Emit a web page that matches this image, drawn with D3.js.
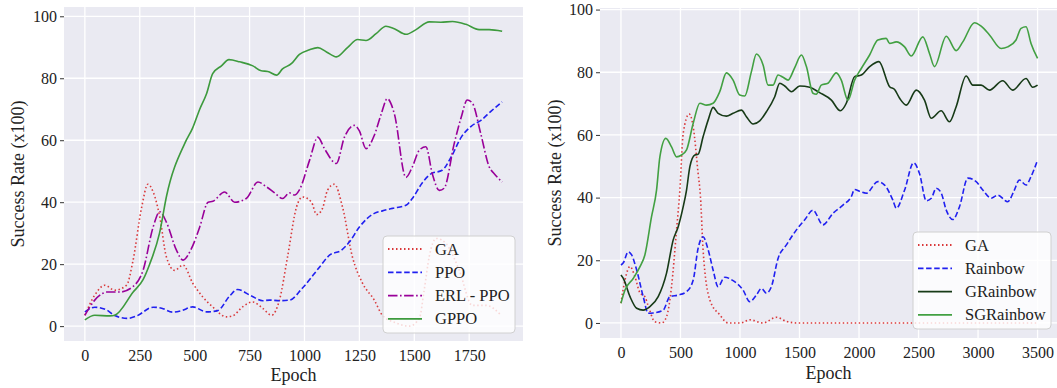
<!DOCTYPE html>
<html><head><meta charset="utf-8">
<script src="https://cdn.jsdelivr.net/npm/d3@7"></script>
<style>body{margin:0;background:#fff}svg{display:block}</style>
</head><body>
<svg id="chart" width="1057" height="388"></svg>
<script>
// ---------- Data (epoch, success rate x100) ----------
const leftYTicks = [0, 20, 40, 60, 80, 100];
const leftXTicks = [0, 250, 500, 750, 1000, 1250, 1500, 1750];
const rightYTicks = [0, 20, 40, 60, 80, 100];
const rightXTicks = [0, 500, 1000, 1500, 2000, 2500, 3000, 3500];

const leftNames = ["GA", "PPO", "ERL - PPO", "GPPO"];
const rightNames = ["GA", "Rainbow", "GRainbow", "SGRainbow"];

const gaLeft = [[0,3.5],[45,10],[91,13.2],[136,11.6],[190,13.2],[218,20.7],[259,38.5],[287,45.8],[311,43.3],[341,35.3],[371,22.4],[409,18],[447,19.7],[491,13.9],[536,9.5],[582,6.2],[645,3],[673,3.3],[718,6.2],[764,7.8],[809,5.8],[850,3.5],[886,8.4],[923,22.4],[964,38.5],[991,41.7],[1032,40],[1055,36],[1082,38],[1105,43.9],[1136,45.8],[1173,38.5],[1218,22.4],[1264,13.9],[1318,8.4],[1355,3.5],[1418,1],[1477,0],[1523,2.5],[1545,11.6],[1568,22.4],[1600,28.3],[1645,26.6],[1705,18],[1764,6.7],[1827,6.7],[1895,3.5]];
const ppoLeft = [[0,4.6],[45,6.1],[100,5.2],[136,3.4],[195,2.5],[236,3.3],[311,6.1],[350,5.8],[400,4.5],[440,5],[491,6.2],[554,4.6],[605,5],[659,9.7],[695,11.8],[759,9.7],[810,8.2],[841,8.4],[886,8.2],[932,8.4],[991,12.3],[1068,19],[1114,22.9],[1168,24.5],[1205,27.2],[1250,32],[1318,36.4],[1355,37.2],[1400,38],[1462,39],[1491,41.2],[1536,46.2],[1577,49.2],[1627,50.3],[1668,54.6],[1714,61],[1759,64.5],[1805,66.5],[1850,69.4],[1900,72.4]];
const erlLeft = [[0,3.5],[45,8.4],[82,10.6],[100,11],[159,11],[218,12.7],[265,18],[311,32],[341,36.9],[371,33.6],[417,24.5],[447,21.3],[485,25],[523,32],[561,40],[583,40.3],[636,43.3],[682,40],[735,41.2],[788,46.5],[826,45],[864,43],[900,41.2],[932,43],[955,42.3],[977,44],[1023,53.5],[1061,61],[1091,57.3],[1145,52.5],[1182,61],[1227,64.8],[1250,63],[1280,57.3],[1318,61.6],[1350,68.6],[1377,73.4],[1409,68.6],[1462,48],[1491,51.4],[1523,56.8],[1553,57.9],[1582,49.2],[1614,43.8],[1636,44.5],[1682,59],[1714,67.5],[1741,73],[1765,71.9],[1803,62],[1841,51.4],[1864,49.2],[1900,46.5]];
const gppoLeft = [[0,2],[45,3.5],[114,3.3],[136,3.5],[220,11],[265,15],[295,20],[340,30],[372,42],[455,59],[491,64],[523,70],[554,75],[582,81.5],[622,84],[656,86],[705,85.3],[765,84],[803,82.4],[833,82.2],[873,81],[900,83],[940,84.7],[977,87.7],[1023,89.2],[1061,89.9],[1100,88.5],[1145,86.9],[1197,90],[1242,92.5],[1280,92.2],[1326,94.4],[1371,96.8],[1409,96],[1462,94.2],[1508,95.7],[1568,98.2],[1621,98.1],[1674,98.3],[1735,97.4],[1795,95.7],[1841,95.7],[1900,95.2]];

const gaRight = [[0,6.3],[34,13.7],[76,18],[117,14.8],[160,9.6],[201,8.4],[227,5.7],[285,0.4],[341,0],[383,2],[425,11.6],[467,29.7],[495,42.4],[523,60.5],[573,66.7],[607,62.6],[648,47.8],[668,40.3],[690,23.3],[747,7.3],[830,2.6],[900,0],[1007,0],[1082,1],[1194,0],[1306,1.8],[1390,0.5],[1482,0],[2000,0],[2500,0],[3000,0],[3500,0]];
const rainbowRight = [[0,18.5],[20,19.2],[61,22.7],[90,21.7],[132,16.9],[187,8.4],[229,3.1],[271,3.2],[355,4.1],[411,8.4],[481,8.9],[551,10],[607,13.7],[648,23.8],[690,27.5],[733,23.3],[774,16.9],[816,11.6],[872,14.6],[942,13.5],[1026,10.5],[1082,6.8],[1138,8.9],[1180,11],[1222,9.5],[1264,11.6],[1320,20.6],[1390,24.9],[1474,29.7],[1544,32.9],[1613,36],[1697,31.3],[1781,35],[1865,37.6],[1935,40.3],[1963,42.6],[2005,42],[2061,41.4],[2158,45.1],[2215,44],[2284,39.2],[2313,36.6],[2383,42.4],[2458,51.1],[2508,47.7],[2565,39],[2607,39.8],[2649,43],[2690,41.5],[2733,36],[2788,33],[2844,37.1],[2914,46.2],[2984,45.1],[3040,42.4],[3110,39.8],[3165,40.8],[3249,38.7],[3305,42.4],[3347,45.6],[3403,44],[3445,46.7],[3500,52]];
const grainbowRight = [[0,15.3],[20,14.2],[76,8.4],[132,4.7],[187,4.1],[243,5.2],[313,8.4],[383,15.9],[439,26.5],[481,30.7],[523,37.1],[551,42.4],[579,49.9],[621,53.6],[648,53.8],[690,59.4],[733,64.8],[774,68.8],[816,66.9],[886,66],[942,66.9],[1012,67.9],[1054,65.8],[1110,63.5],[1166,64.5],[1222,67.4],[1292,72.2],[1334,76.5],[1376,75.6],[1432,73.8],[1502,75.6],[1586,75.2],[1669,73.5],[1768,71.1],[1843,67.7],[1893,70.1],[1963,78.6],[2019,79.1],[2089,81.8],[2167,83.4],[2257,75.4],[2299,74.5],[2341,71.7],[2397,69.5],[2481,74.3],[2550,71.1],[2607,65.3],[2690,67.7],[2760,64.2],[2816,69],[2900,78.8],[2956,75.9],[3026,75.9],[3096,74.3],[3207,77.3],[3291,74.3],[3403,78],[3459,75.2],[3500,75.9]];
const sgrainbowRight = [[0,6.3],[34,10.5],[103,14.2],[160,18],[201,21.7],[257,33.9],[299,42.4],[327,53],[377,58.9],[425,56.2],[467,53],[509,53.6],[551,55.2],[607,63.7],[663,70.1],[719,69.5],[774,70.1],[830,73.8],[886,79.8],[942,77.5],[998,72.7],[1040,72.4],[1096,80.2],[1138,85.8],[1194,82.3],[1236,75.9],[1278,75.9],[1320,79.1],[1362,78.4],[1404,77.5],[1460,81.5],[1516,85.5],[1558,81.8],[1613,73.3],[1641,73],[1683,75.9],[1739,76.5],[1809,79.8],[1851,77.5],[1907,71.1],[1963,77.5],[2019,81.2],[2089,85.5],[2158,90.3],[2228,90.8],[2257,89.2],[2313,89.7],[2383,88.1],[2439,85.2],[2536,91.3],[2592,86],[2634,81.8],[2733,91.5],[2816,86.9],[2872,89.7],[2970,95.8],[3026,94.7],[3096,91.9],[3194,87.6],[3249,88.1],[3319,90.3],[3361,94],[3403,94.5],[3445,89.2],[3500,84.4]];

// ---------- Styles ----------
const styles = {
  GA:        {color:"#d9383a", dash:"1.5,2.5", width:1.6},
  PPO:       {color:"#2020f0", dash:"5.5,2.6", width:1.6},
  "ERL - PPO":{color:"#990099", dash:"9.5,2.5,1.6,2.5", width:1.6},
  GPPO:      {color:"#3d9a3d", dash:null, width:1.6},
  Rainbow:   {color:"#2020f0", dash:"5.5,2.6", width:1.6},
  GRainbow:  {color:"#173a17", dash:null, width:1.6},
  SGRainbow: {color:"#42a042", dash:null, width:1.6}
};

const svg = d3.select("#chart");
const font = "'Liberation Serif','Times New Roman',serif";

function panel(cfg){
  const {x0,x1,y0,y1,xDomain,yDomain,xTicks,yTicks,series,names,legend,ylabX,xlabY} = cfg;
  const x = d3.scaleLinear().domain(xDomain).range([x0,x1]);
  const y = d3.scaleLinear().domain(yDomain).range([y1,y0]);
  const g = svg.append("g");
  const clipId = "clip"+Math.round(x0);
  svg.append("clipPath").attr("id",clipId).append("rect")
    .attr("x",x0).attr("y",y0).attr("width",x1-x0).attr("height",y1-y0);
  g.append("rect").attr("x",x0).attr("y",y0).attr("width",x1-x0).attr("height",y1-y0).attr("fill","#eaeaf2");
  // grid
  g.append("g").selectAll("line").data(xTicks).join("line")
    .attr("x1",d=>x(d)).attr("x2",d=>x(d)).attr("y1",y0).attr("y2",y1)
    .attr("stroke","#fff").attr("stroke-width",1.3);
  g.append("g").selectAll("line").data(yTicks).join("line")
    .attr("x1",x0).attr("x2",x1).attr("y1",d=>y(d)).attr("y2",d=>y(d))
    .attr("stroke","#fff").attr("stroke-width",1.3);
  // y axis
  const ya = g.append("g").attr("transform",`translate(${x0},0)`)
    .call(d3.axisLeft(y).tickValues(yTicks).tickSize(4).tickPadding(3).tickFormat(d3.format("d")));
  ya.select(".domain").remove();
  ya.selectAll(".tick line").attr("stroke","#333").attr("stroke-width",1);
  ya.selectAll("text").attr("font-family",font).attr("font-size",16).attr("fill","#222");
  // x axis
  const xa = g.append("g").attr("transform",`translate(0,${y1})`)
    .call(d3.axisBottom(x).tickValues(xTicks).tickSize(0).tickPadding(9).tickFormat(d3.format("d")));
  xa.select(".domain").remove();
  xa.selectAll("text").attr("font-family",font).attr("font-size",16).attr("fill","#222");
  // labels
  g.append("text").attr("x",(x0+Math.min(x1,1057))/2 - (x1>1000?0:0)).attr("y",xlabY)
    .attr("text-anchor","middle").attr("font-family",font).attr("font-size",18).attr("fill","#222")
    .text("Epoch");
  g.append("text").attr("transform",`translate(${ylabX},${(y0+y1)/2}) rotate(-90)`)
    .attr("text-anchor","middle").attr("dominant-baseline","central")
    .attr("font-family",font).attr("font-size",18).attr("fill","#222")
    .text("Success Rate (x100)");
  // lines
  const line = d3.line().x(d=>x(d[0])).y(d=>y(d[1])).curve(d3.curveMonotoneX);
  const lg = g.append("g").attr("clip-path",`url(#${clipId})`);
  series.forEach((s,i)=>{
    const st = styles[names[i]];
    lg.append("path").datum(s).attr("d",line).attr("fill","none")
      .attr("stroke",st.color).attr("stroke-width",st.width)
      .attr("stroke-dasharray",st.dash).attr("stroke-linecap","butt");
  });
  // legend
  const L = legend;
  const lgd = g.append("g");
  lgd.append("rect").attr("x",L.x).attr("y",L.y).attr("width",L.w).attr("height",L.h)
    .attr("rx",4).attr("fill","#fff").attr("fill-opacity",0.8).attr("stroke","#d0d0d0").attr("stroke-width",1);
  names.forEach((n,i)=>{
    const st = styles[n];
    const yy = L.y + L.first + i*L.step;
    lgd.append("line").attr("x1",L.x+5).attr("x2",L.x+39).attr("y1",yy).attr("y2",yy)
      .attr("stroke",st.color).attr("stroke-width",st.width+0.2).attr("stroke-dasharray",st.dash);
    lgd.append("text").attr("x",L.x+52).attr("y",yy).attr("dominant-baseline","central")
      .attr("font-family",font).attr("font-size",16.5).attr("fill","#222").text(n);
  });
}

panel({x0:64,x1:523,y0:7,y1:341,xDomain:[-95,1995],yDomain:[-4.8,103],
  xTicks:leftXTicks,yTicks:leftYTicks,series:[gaLeft,ppoLeft,erlLeft,gppoLeft],names:leftNames,
  legend:{x:383,y:236,w:132,h:97,first:13,step:23.3},ylabX:18,xlabY:381});

panel({x0:600,x1:1059,y0:8,y1:338,xDomain:[-176,3680],yDomain:[-4.8,100.5],
  xTicks:rightXTicks,yTicks:rightYTicks,series:[gaRight,rainbowRight,grainbowRight,sgrainbowRight],names:rightNames,
  legend:{x:913,y:232,w:138,h:97,first:13,step:23.3},ylabX:555,xlabY:379});
</script>
</body></html>
